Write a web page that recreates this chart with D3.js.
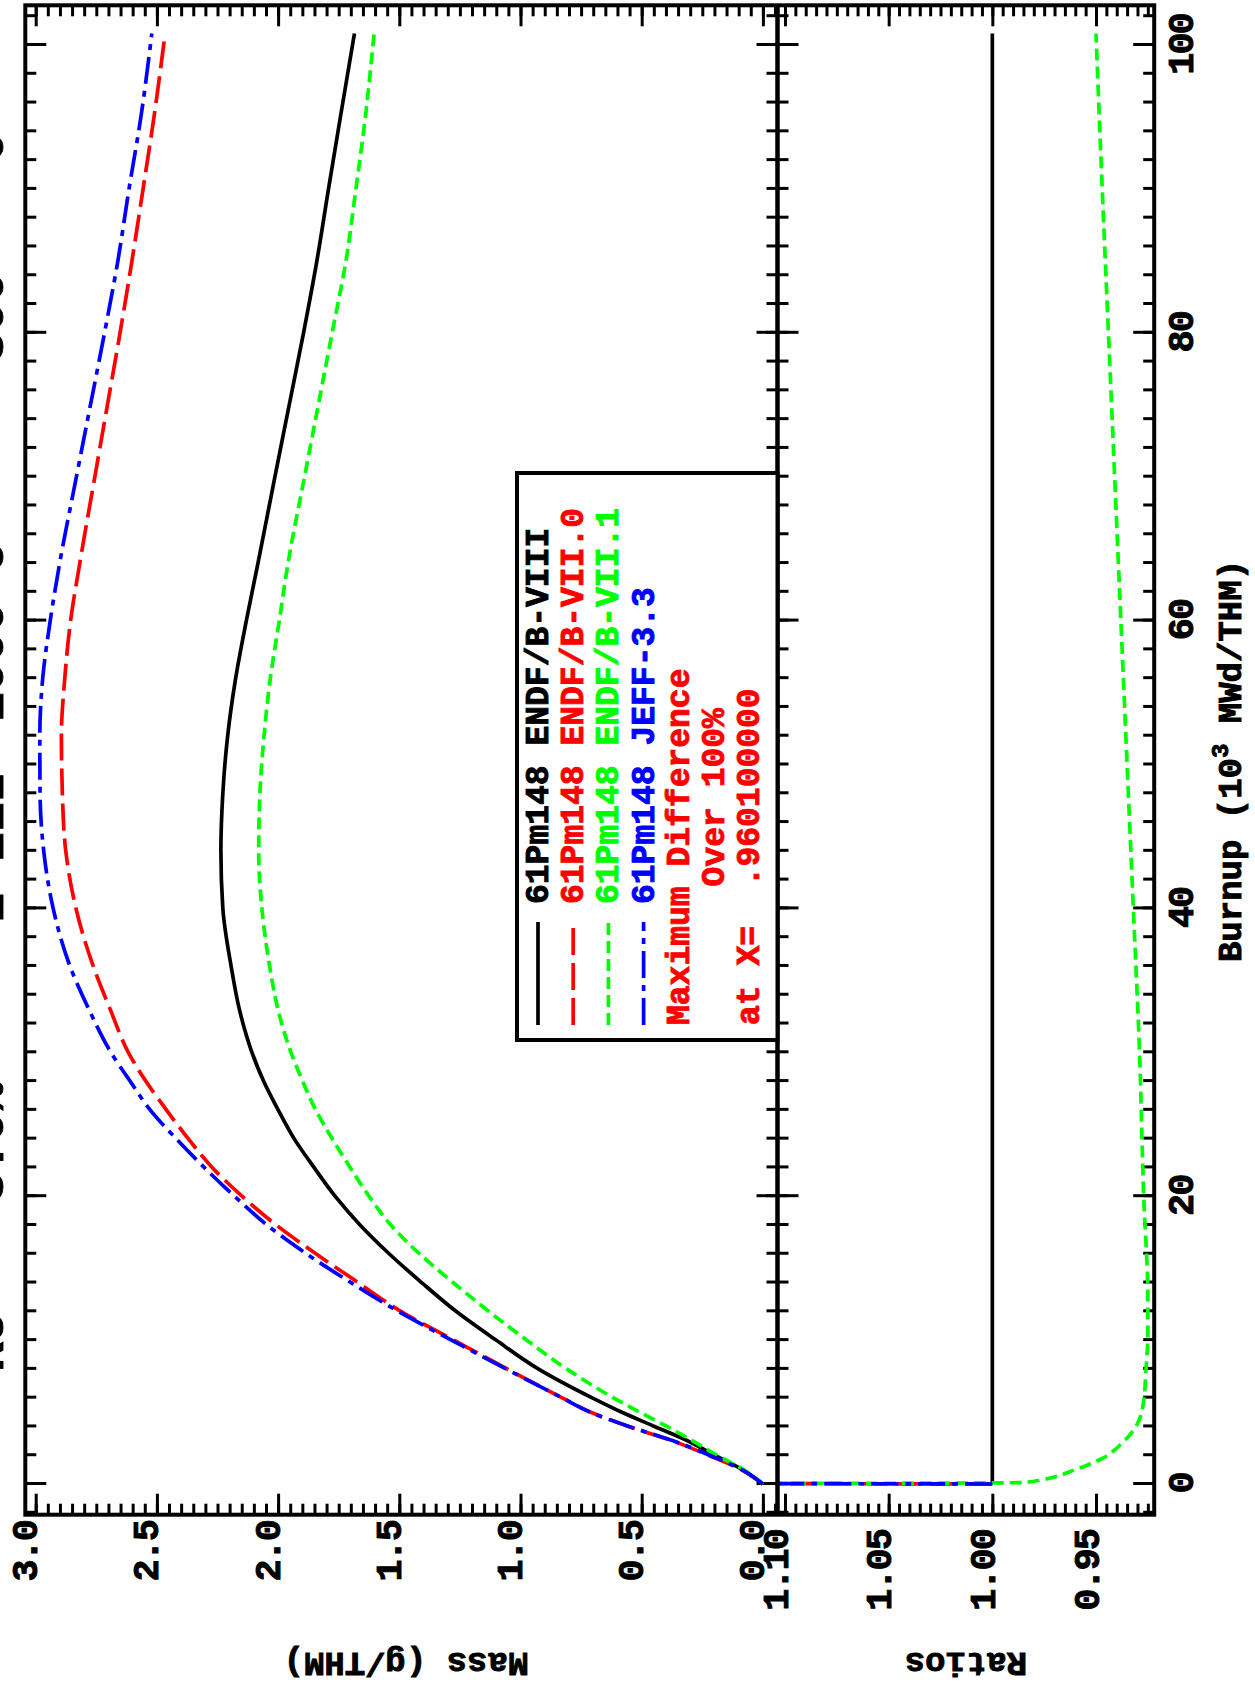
<!DOCTYPE html>
<html><head><meta charset="utf-8">
<script src="https://cdn.jsdelivr.net/npm/d3@7"></script>
<style>html,body{margin:0;padding:0;background:#fff;overflow:hidden}</style>
</head><body><svg id="chart" width="1255" height="1697"></svg>
<script>
// ---------------- data ----------------
const burnup = [0,1,2,3,4,5,6,8,10,12,14,16,18,20,22,24,26,28,30,33,36,40,44,48,52,56,60,64,70,75,80,85,90,95,100.8];
const massENDF8  = [0,0.085,0.20,0.31,0.447,0.584,0.706,0.927,1.101,1.266,1.408,1.542,1.662,1.765,1.852,1.934,2.000,2.060,2.108,2.160,2.194,2.228,2.236,2.228,2.208,2.175,2.131,2.083,2.013,1.954,1.895,1.840,1.792,1.743,1.685];
const massENDF70 = [0,0.09,0.225,0.373,0.553,0.712,0.83,1.055,1.275,1.494,1.67,1.844,2.008,2.149,2.272,2.371,2.461,2.546,2.618,2.693,2.763,2.834,2.876,2.89,2.894,2.88,2.856,2.818,2.756,2.704,2.652,2.603,2.557,2.512,2.466];
const massENDF71 = [0,0.08,0.19,0.29,0.396,0.509,0.618,0.81,0.975,1.131,1.278,1.417,1.535,1.625,1.703,1.777,1.845,1.899,1.947,2.001,2.035,2.067,2.080,2.075,2.058,2.032,1.995,1.959,1.891,1.834,1.777,1.72,1.679,1.64,1.604];
const massJEFF33 = [0,0.087,0.22,0.37,0.553,0.714,0.83,1.06,1.285,1.505,1.70,1.883,2.046,2.180,2.305,2.421,2.528,2.611,2.690,2.781,2.859,2.928,2.967,2.982,2.983,2.971,2.94,2.901,2.832,2.774,2.716,2.661,2.615,2.566,2.521];

const ratioBurnupRef = [0,100.8];
const ratioENDF8 = [1.0,1.0];
const ratioBurnupOther = [0,0.1,5,10,20,40,60,80,100.8];
const ratioENDF70 = [1.0,1.25,1.22,1.16,1.22,1.27,1.34,1.40,1.46];
const ratioJEFF33 = [1.0,1.25,1.22,1.17,1.24,1.31,1.38,1.43,1.50];
const ratioBurnupENDF71 = [0,0.1,0.3,1.0,1.7,2.9,4.2,5.8,7.7,10.5,13,20,30,40,50,60,70,80,90,100.8];
const ratioENDF71 = [1.2,0.985,0.976,0.960,0.948,0.937,0.930,0.927,0.926,0.925,0.925,0.927,0.929,0.932,0.935,0.938,0.941,0.944,0.947,0.950];

const burnupTickLabels = [0,20,40,60,80,100];
const massTickLabels = ["0.0","0.5","1.0","1.5","2.0","2.5","3.0"];
const ratioTickLabels = ["0.95","1.00","1.05","1.10"];

const seriesNames = ["61Pm148 ENDF/B-VIII","61Pm148 ENDF/B-VII.0","61Pm148 ENDF/B-VII.1","61Pm148 JEFF-3.3"];
const seriesColors = ["#000000","#ff0000","#00ff00","#0000ff"];
const seriesDash = [null,"27,8","12,6","27,7,6,7"];
const noteLines = ["Maximum Difference","       Over 100%","at X=  .960100000"];
const titleParts = [[325,"RU"],[495,"3.0%"],[775,"2 11I"],[975,"1000 O"],[1335,"300"],[1535,"0"]];

// ---------------- layout (landscape, rotated -90) ----------------
const FONT = "'Liberation Mono','Courier New',monospace";
const svg = d3.select('#chart');
const g = svg.append('g').attr('transform','translate(0,1697) rotate(-90)');
const X0=182.3, X1=1691.7, YT=25.3, YD=777.5, YB=1154.2;

const x  = d3.scaleLinear().domain([0,100]).range([213,1652]);
const yM = d3.scaleLinear().domain([0,3]).range([762.9,35.7]);
const yR = d3.scaleLinear().domain([0.95,1.10]).range([1096,785]);

const defs = svg.append('defs');
defs.append('clipPath').attr('id','clipM').append('rect').attr('x',X0).attr('y',YT).attr('width',X1-X0).attr('height',YD-YT);
defs.append('clipPath').attr('id','clipR').append('rect').attr('x',X0).attr('y',YD).attr('width',X1-X0).attr('height',YB-YD);

// ticks via d3 axes
function tickAxis(fn, scale, values, size, tr){
  const a = fn(scale).tickValues(values).tickSize(size).tickFormat('');
  const ag = g.append('g').attr('transform',tr).call(a);
  ag.select('.domain').remove();
  ag.selectAll('line').attr('stroke','#000').attr('stroke-width',3);
}
const bMin = x.invert(X0), bMax = x.invert(X1);
const bMinor = d3.range(-1,52).map(i=>i*2).filter(v=>v>bMin&&v<bMax);
const bMajor = d3.range(0,6).map(i=>i*20);
const MAJ=21, MIN=11;
[[d3.axisTop,YT],[d3.axisBottom,YD],[d3.axisTop,YD],[d3.axisBottom,YB]].forEach(([fn,yy])=>{
  tickAxis(fn,x,bMinor,-MIN,`translate(0,${yy})`);
  tickAxis(fn,x,bMajor,-MAJ,`translate(0,${yy})`);
});
const mMinor = d3.range(-1,61).map(i=>i*0.05).filter(v=>yM(v)>YT+1&&yM(v)<YD);
const mMajor = d3.range(0,7).map(i=>i*0.5);
const rMinor = d3.range(184,221).map(i=>i*0.005).filter(v=>yR(v)>YD&&yR(v)<YB-1);
const rMajor = [0.95,1.00,1.05,1.10];
[[d3.axisLeft,X0],[d3.axisRight,X1]].forEach(([fn,xx])=>{
  tickAxis(fn,yM,mMinor,-MIN,`translate(${xx},0)`);
  tickAxis(fn,yM,mMajor,-MAJ,`translate(${xx},0)`);
  tickAxis(fn,yR,rMinor,-MIN,`translate(${xx},0)`);
  tickAxis(fn,yR,rMajor,-MAJ,`translate(${xx},0)`);
});

// text styling
function styleText(sel, size, color){
  color = color || '#000';
  sel.attr('font-family',FONT).attr('font-weight','bold').attr('font-size',size||34)
     .attr('fill',color).attr('stroke',color).attr('stroke-width',0.9);
}
function tickText(sel){ styleText(sel,37); sel.attr('letter-spacing',-2); }

// tick labels via axes
const bl = g.append('g').attr('transform',`translate(0,${YB})`)
  .call(d3.axisBottom(x).tickValues(burnupTickLabels).tickSize(0).tickFormat(d3.format('d')));
bl.select('.domain').remove();
bl.selectAll('text').attr('dy',null).attr('y',1193-YB).call(tickText);
const ml = g.append('g').attr('transform',`translate(${X0},0)`)
  .call(d3.axisLeft(yM).tickValues(massTickLabels.map(Number)).tickSize(0).tickPadding(X0-176).tickFormat((d,i)=>massTickLabels[i]));
ml.select('.domain').remove();
ml.selectAll('text').attr('dy',null).attr('y',1).call(tickText);
const rl = g.append('g').attr('transform',`translate(${X0},0)`)
  .call(d3.axisLeft(yR).tickValues(ratioTickLabels.map(Number)).tickSize(0).tickPadding(X0-167).tickFormat((d,i)=>ratioTickLabels[i]));
rl.select('.domain').remove();
rl.selectAll('text').attr('dy',null).attr('y',2).call(tickText);

// curves
const massSeries = [massENDF8,massENDF70,massENDF71,massJEFF33];
const ratioSeries = [[ratioBurnupRef,ratioENDF8],[ratioBurnupOther,ratioENDF70],[ratioBurnupENDF71,ratioENDF71],[ratioBurnupOther,ratioJEFF33]];
const lineM = d3.line().x(d=>x(d[0])).y(d=>yM(d[1])).curve(d3.curveMonotoneX);
const lineR = d3.line().x(d=>x(d[0])).y(d=>yR(d[1])).curve(d3.curveMonotoneX);
const gm = g.append('g').attr('clip-path','url(#clipM)');
const gr = g.append('g').attr('clip-path','url(#clipR)');
massSeries.forEach((arr,i)=>{
  gm.append('path').datum(burnup.map((b,j)=>[b,arr[j]])).attr('d',lineM)
    .attr('fill','none').attr('stroke',seriesColors[i]).attr('stroke-width',3.7)
    .attr('stroke-dasharray',seriesDash[i]);
});
ratioSeries.forEach(([bs,rs],i)=>{
  gr.append('path').datum(bs.map((b,j)=>[b,rs[j]])).attr('d',lineR)
    .attr('fill','none').attr('stroke',seriesColors[i]).attr('stroke-width',3.7)
    .attr('stroke-dasharray',seriesDash[i]);
});

// frame
g.append('rect').attr('x',X0).attr('y',YT).attr('width',X1-X0).attr('height',YB-YT)
  .attr('fill','none').attr('stroke','#000').attr('stroke-width',4);
g.append('line').attr('x1',X0).attr('x2',X1).attr('y1',YD).attr('y2',YD).attr('stroke','#000').attr('stroke-width',4.5);

// legend
const LX0=657, LX1=1224, LY0=517;
g.append('rect').attr('x',LX0).attr('y',LY0).attr('width',LX1-LX0).attr('height',YD-LY0)
  .attr('fill','#fff').attr('stroke','#000').attr('stroke-width',4);
const rowY = i => 538 + 35.2*i;
seriesNames.forEach((nm,i)=>{
  g.append('line').attr('x1',672).attr('x2',775).attr('y1',rowY(i)).attr('y2',rowY(i))
    .attr('stroke',seriesColors[i]).attr('stroke-width',3.7).attr('stroke-dasharray',seriesDash[i]);
  g.append('text').attr('x',793).attr('y',rowY(i)+10).text(nm).call(styleText,33,seriesColors[i]);
});
noteLines.forEach((t,k)=>{
  g.append('text').attr('x',672).attr('y',rowY(4+k)+10).style('white-space','pre').text(t)
    .call(styleText,33,'#ff0000');
});

// axis titles
const bt = g.append('text').attr('x',936).attr('y',1241).attr('text-anchor','middle').call(styleText,34);
bt.append('tspan').text('Burnup (10');
bt.append('tspan').attr('dy',-13).attr('font-size',24).text('3');
bt.append('tspan').attr('dy',13).text(' MWd/THM)');
g.append('text').attr('transform','translate(44,406) rotate(-90)').attr('text-anchor','middle').text('Mass (g/THM)').call(styleText,34);
g.append('text').attr('transform','translate(44,966) rotate(-90)').attr('text-anchor','middle').text('Ratios').call(styleText,34);

// cropped title (only the bottom of its glyphs falls inside the page)
const tt = g.append('text').attr('y',3).call(styleText,50);
titleParts.forEach(([px,t])=>tt.append('tspan').attr('x',px).style('white-space','pre').text(t));
</script></body></html>
